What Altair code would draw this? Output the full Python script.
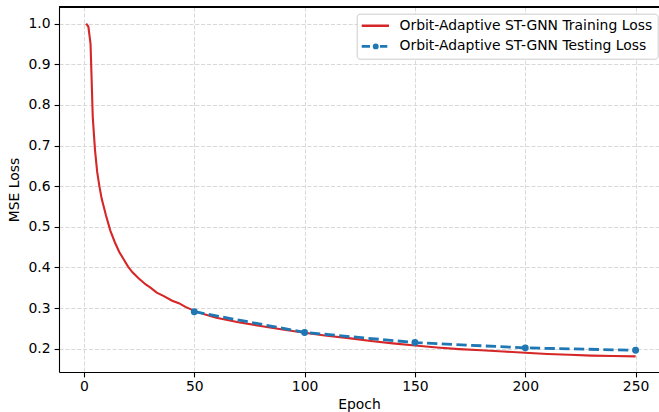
import altair as alt
import pandas as pd

# ---- data ----
train_epochs = [1, 2, 3, 4, 5, 6, 7, 8, 10, 12, 14, 16, 18, 20, 22, 25, 28, 30, 33, 36,
                40, 43, 46, 50, 55, 60, 70, 80, 90, 100, 110, 120, 130, 140, 150, 160,
                170, 180, 190, 200, 210, 220, 230, 240, 250]
train_loss = [1.000, 0.993, 0.950, 0.770, 0.690, 0.635, 0.600, 0.570, 0.528, 0.490,
              0.462, 0.438, 0.420, 0.402, 0.388, 0.372, 0.358, 0.351, 0.338, 0.330,
              0.318, 0.312, 0.303, 0.293, 0.284, 0.276, 0.265, 0.256, 0.247, 0.239,
              0.232, 0.226, 0.219, 0.213, 0.208, 0.203, 0.199, 0.196, 0.193, 0.190,
              0.187, 0.185, 0.183, 0.182, 0.181]
test_epochs = [50, 100, 150, 200, 250]
test_loss = [0.291, 0.240, 0.215, 0.202, 0.196]
series_names = ["Orbit-Adaptive ST-GNN Training Loss", "Orbit-Adaptive ST-GNN Testing Loss"]
x_ticks = [0, 50, 100, 150, 200, 250]
y_ticks = [0.2, 0.3, 0.4, 0.5, 0.6, 0.7, 0.8, 0.9, 1.0]

# ---- styles ----
RED = "#d62728"
BLUE = "#1f77b4"
FONT = "DejaVu Sans"
FS = 13.9
x_domain = [-11.3, 260.6]
y_domain = [0.1426, 1.041]

train_df = pd.DataFrame({"epoch": train_epochs, "loss": train_loss, "series": series_names[0]})
test_df = pd.DataFrame({"epoch": test_epochs, "loss": test_loss, "series": series_names[1]})
legend_data = alt.Data(values=[{"epoch": None, "loss": None, "series": s} for s in series_names])

x_scale = alt.Scale(domain=x_domain, nice=False, zero=False)
y_scale = alt.Scale(domain=y_domain, nice=False, zero=False)

x_axis = alt.Axis(values=x_ticks, title="Epoch", grid=True, format="d",
                  titlePadding=4, labelPadding=3)
y_axis = alt.Axis(values=y_ticks, title="MSE Loss", grid=True, format=".1f",
                  titlePadding=7, labelPadding=4)

train_line = alt.Chart(train_df).mark_line(color=RED, strokeWidth=2.1).encode(
    x=alt.X("epoch:Q", scale=x_scale, axis=x_axis),
    y=alt.Y("loss:Q", scale=y_scale, axis=y_axis),
)

# top spine of the frame (at the top of the y domain)
top_spine = alt.Chart(train_df).mark_rule(color="black", strokeWidth=1.1).encode(
    x=alt.value(0), x2=alt.value(600),
    y=alt.Y(datum=y_domain[1], scale=y_scale),
)

test_line = alt.Chart(test_df).mark_line(color=BLUE, strokeWidth=2.8,
                                          strokeDash=[10.3, 4.4]).encode(
    x=alt.X("epoch:Q", scale=x_scale),
    y=alt.Y("loss:Q", scale=y_scale),
)

test_pts = alt.Chart(test_df).mark_circle(color=BLUE, size=48, opacity=1).encode(
    x=alt.X("epoch:Q", scale=x_scale),
    y=alt.Y("loss:Q", scale=y_scale),
)

# legend symbols: path x from -1 to 3 (symbol laid out as a 1-unit-radius box)
sym_train = "M-1,0L3,0"
sym_test = ("M-1,0L0.38,0M1.76,0L2.77,0"
            "M1.4,0A0.23,0.23 0 1,1 0.94,0A0.23,0.23 0 1,1 1.4,0Z")

legend = alt.Legend(title=None, orient="none", legendX=297.7, legendY=6.7,
                    padding=5, fillColor="white", strokeColor="#cccccc",
                    cornerRadius=3, labelFont=FONT, labelFontSize=FS,
                    labelColor="black", symbolSize=210, symbolStrokeWidth=2.6,
                    symbolOffset=-3.45, labelOffset=23.3, rowPadding=6.7,
                    clipHeight=14, labelLimit=400)

legend_layer = alt.Chart(legend_data).mark_point(filled=True, strokeWidth=2.6, opacity=1).encode(
    x=alt.X("epoch:Q", scale=x_scale),
    y=alt.Y("loss:Q", scale=y_scale),
    color=alt.Color("series:N", scale=alt.Scale(domain=series_names, range=[RED, BLUE]),
                    legend=legend),
    stroke=alt.Stroke("series:N", scale=alt.Scale(domain=series_names, range=[RED, BLUE]),
                      legend=legend),
    shape=alt.Shape("series:N", scale=alt.Scale(domain=series_names, range=[sym_train, sym_test]),
                    legend=legend),
)

chart = alt.layer(train_line, top_spine, test_line, test_pts, legend_layer).properties(
    width=600, height=365,
    padding={"left": 59, "top": 7, "right": 0, "bottom": 40},
    autosize=alt.AutoSizeParams(type="none"),
    background="white",
).configure_view(stroke=None).configure_axis(
    labelFont=FONT, labelFontSize=FS, labelColor="black",
    titleFont=FONT, titleFontSize=FS, titleColor="black", titleFontWeight="normal",
    domainColor="black", domainWidth=1.1, tickColor="black", tickWidth=1.1,
    tickSize=4.9, gridColor="#d9d9d9", gridDash=[4.1, 1.8], gridWidth=1.0,
)

chart.save("out.html", embed_options={"renderer": "svg", "actions": False})
